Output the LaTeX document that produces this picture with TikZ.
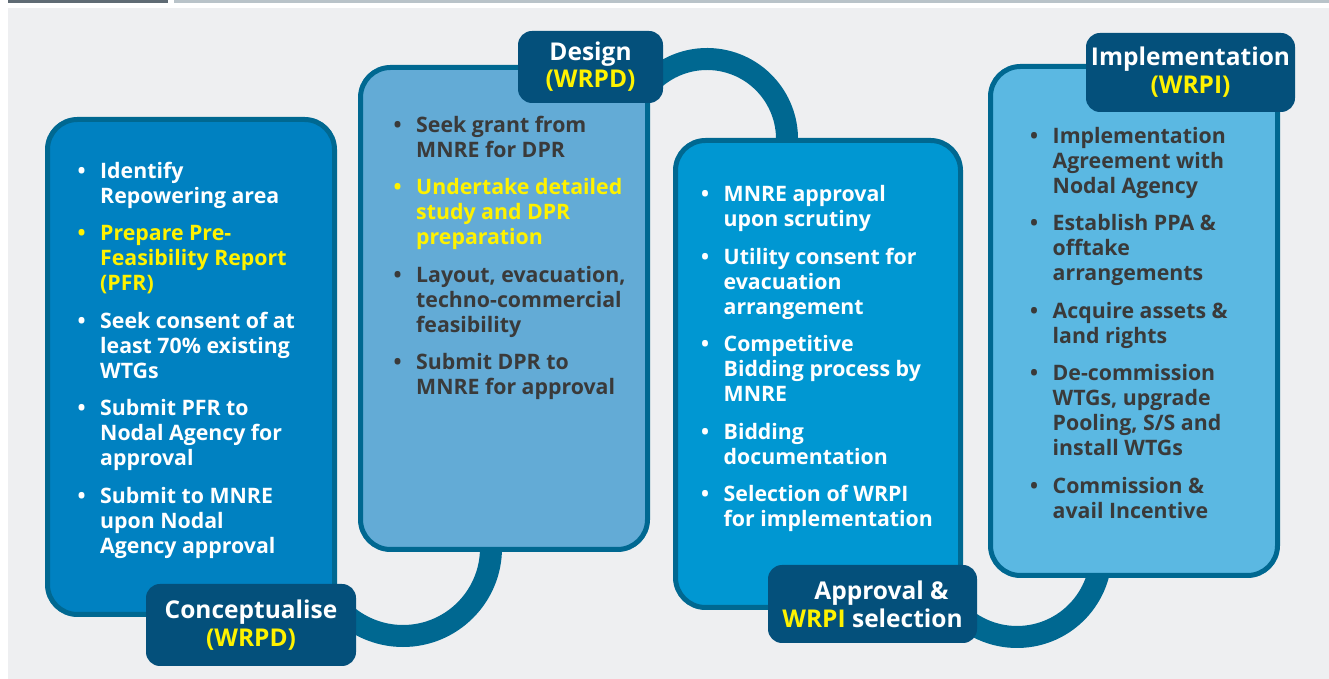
\documentclass[tikz,border=0pt]{standalone}
\usepackage{fontspec}
\setmainfont{Open Sans}

\definecolor{wrpbg}{RGB}{238,239,241}
\definecolor{wrpbar}{RGB}{95,107,116}
\definecolor{wrpbarlight}{RGB}{185,195,201}
\definecolor{wrpborder}{RGB}{0,104,145}
\definecolor{wrpnavy}{RGB}{4,80,123}
\definecolor{wrpyellow}{RGB}{255,242,0}
\definecolor{wrpdark}{RGB}{58,58,58}
\definecolor{concfill}{RGB}{0,129,193}
\definecolor{designfill}{RGB}{99,171,214}
\definecolor{approvfill}{RGB}{0,151,210}
\definecolor{implfill}{RGB}{91,184,226}

\newcommand\itemfont{\bfseries\fontsize{21.3}{25}\selectfont}
\newcommand\tagfont{\bfseries\fontsize{24.5}{28}\selectfont}
\newcommand\yl{\color{wrpyellow}}
\newcommand\bul{\makebox[22.5pt][l]{\textbullet}}

\tikzset{
    stepbox/.style={draw=wrpborder, line width=5pt, rounded corners=30pt, inner sep=0pt},
    steptag/.style={fill=wrpnavy, text=white, rounded corners=14pt, align=center, font=\tagfont, inner sep=0pt},
    steptext/.style={anchor=north west, inner sep=0pt, font=\itemfont},
    arcline/.style={draw=wrpborder, line width=22pt},
}

\begin{document}
\begin{tikzpicture}[x=1pt,y=1pt]
        \useasboundingbox (0,0) rectangle (1329,679);
        % background and top strip
        \fill[wrpbg] (8,0) rectangle (1329,671);
        \fill[wrpbar] (8,676) rectangle (168,679);
        \fill[wrpbarlight] (174,676) rectangle (1329,679);
        % connecting arcs
        \coordinate (arcA) at (403,131);
        \coordinate (arcB) at (707,540);
        \coordinate (arcC) at (1017,126);
        \draw[arcline] (arcA) ++(0:88) arc[start angle=0,end angle=-130,radius=88];
        \draw[arcline] (arcB) ++(-10:80) arc[start angle=-10,end angle=130,radius=80];
        \draw[arcline] (arcC) ++(10:84) arc[start angle=10,end angle=-130,radius=84];
        % step boxes
        \node[stepbox, fill=concfill, minimum width=287pt, minimum height=495pt] (concbox) at (191,312) {};
        \node[stepbox, fill=designfill, minimum width=287pt, minimum height=482pt] (designbox) at (504,370.5) {};
        \node[stepbox, fill=approvfill, minimum width=285pt, minimum height=467pt] (approvbox) at (818,305) {};
        \node[stepbox, fill=implfill, minimum width=287pt, minimum height=509pt] (implbox) at (1134,358) {};
        % items
        \node[steptext, text=white] (concitems) at (77.5,518.5) {%
            \begin{tabular}{@{}l@{}l@{}}
            \bul & Identify\\
             & Repowering area\\[12.5pt]
            \yl\bul & \yl Prepare Pre-\\
             & \yl Feasibility Report\\
             & \yl (PFR)\\[12.5pt]
            \bul & Seek consent of at\\
             & least 70\% existing\\
             & WTGs\\[12.5pt]
            \bul & Submit PFR to\\
             & Nodal Agency for\\
             & approval\\[12.5pt]
            \bul & Submit to MNRE\\
             & upon Nodal\\
             & Agency approval
            \end{tabular}};
        \node[steptext, text=wrpdark] (designitems) at (393.5,564.5) {%
            \begin{tabular}{@{}l@{}l@{}}
            \bul & Seek grant from\\
             & MNRE for DPR\\[12.5pt]
            \yl\bul & \yl Undertake detailed\\
             & \yl study and DPR\\
             & \yl preparation\\[12.5pt]
            \bul & Layout, evacuation,\\
             & techno-commercial\\
             & feasibility\\[12.5pt]
            \bul & Submit DPR to\\
             & MNRE for approval
            \end{tabular}};
        \node[steptext, text=white] (approvitems) at (701,494.8) {%
            \begin{tabular}{@{}l@{}l@{}}
            \bul & MNRE approval\\
             & upon scrutiny\\[12.5pt]
            \bul & Utility consent for\\
             & evacuation\\
             & arrangement\\[12.5pt]
            \bul & Competitive\\
             & Bidding process by\\
             & MNRE\\[12.5pt]
            \bul & Bidding\\
             & documentation\\[12.5pt]
            \bul & Selection of WRPI\\
             & for implementation
            \end{tabular}};
        \node[steptext, text=wrpdark] (implitems) at (1030,553.2) {%
            \begin{tabular}{@{}l@{}l@{}}
            \bul & Implementation\\
             & Agreement with\\
             & Nodal Agency\\[12.5pt]
            \bul & Establish PPA \&\\
             & offtake\\
             & arrangements\\[12.5pt]
            \bul & Acquire assets \&\\
             & land rights\\[12.5pt]
            \bul & De-commission\\
             & WTGs, upgrade\\
             & Pooling, S/S and\\
             & install WTGs\\[12.5pt]
            \bul & Commission \&\\
             & avail Incentive
            \end{tabular}};
        % stage tags
        \node[steptag, minimum width=210pt, minimum height=82pt] (conctag) at (251,54) {Conceptualise\\{\yl(WRPD)}};
        \node[steptag, minimum width=145pt, minimum height=72pt] (designtag) at (590.5,612) {Design\\[-1pt]{\yl(WRPD)}};
        \node[steptag, minimum width=209pt, minimum height=78pt] (approvtag) at (872.5,75) {\hspace*{18pt}Approval \&\\{\yl WRPI} selection};
        \node[steptag, minimum width=209pt, minimum height=79pt] (impltag) at (1190.5,606.5) {Implementation\\{\yl(WRPI)}};
\end{tikzpicture}
\end{document}
